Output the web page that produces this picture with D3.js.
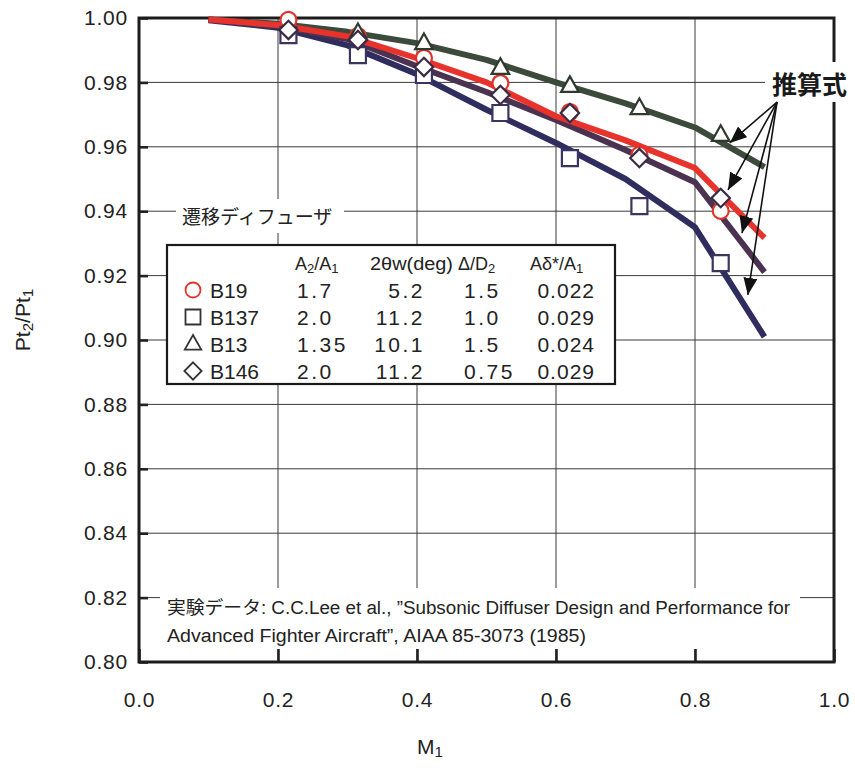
<!DOCTYPE html>
<html><head><meta charset="utf-8">
<script src="https://cdn.jsdelivr.net/npm/d3@7"></script>
<style>body{margin:0;background:#fff}</style>
</head><body>
<svg id="chart" width="855" height="770"></svg>
<script>
// ---------- data ----------
const xTicks = [0.0, 0.2, 0.4, 0.6, 0.8, 1.0];
const xTickLabels = ["0.0", "0.2", "0.4", "0.6", "0.8", "1.0"];
const yTicks = [0.80, 0.82, 0.84, 0.86, 0.88, 0.90, 0.92, 0.94, 0.96, 0.98, 1.00];
const yTickLabels = ["0.80", "0.82", "0.84", "0.86", "0.88", "0.90", "0.92", "0.94", "0.96", "0.98", "1.00"];

// 推算式 (calculated curves)
const calcM = [0.1, 0.2, 0.3, 0.4, 0.5, 0.6, 0.7, 0.8, 0.9];
const calcB19 = [0.9995, 0.9978, 0.9943, 0.9875, 0.9800, 0.9695, 0.9620, 0.9534, 0.9317];
const calcB137 = [0.9993, 0.9970, 0.9915, 0.9825, 0.9715, 0.9612, 0.9500, 0.9350, 0.9010];
const calcB13 = [0.9995, 0.9982, 0.9957, 0.9922, 0.9870, 0.9800, 0.9735, 0.9660, 0.9537];
const calcB146 = [0.9995, 0.9975, 0.9935, 0.9850, 0.9770, 0.9683, 0.9590, 0.9490, 0.9211];

// 実験データ (experimental points)
const expM = [0.215, 0.315, 0.41, 0.52, 0.62, 0.72, 0.837];
const expB19 = [0.9994, 0.9944, 0.9876, 0.9798, 0.9708, 0.9575, 0.9401];
const expB137 = [0.9947, 0.9885, 0.9823, 0.9705, 0.9565, 0.9416, 0.9239];
const expM13 = [0.315, 0.41, 0.52, 0.62, 0.72, 0.837];
const expB13 = [0.9953, 0.9922, 0.9845, 0.9789, 0.9720, 0.9637];
const expB146 = [0.9963, 0.9932, 0.9848, 0.9761, 0.9705, 0.9565, 0.9441];

// legend table
const seriesNames = ["B19", "B137", "B13", "B146"];
const colA2A1 = ["1.7", "2.0", "1.35", "2.0"];
const col2Theta = ["5.2", "11.2", "10.1", "11.2"];
const colDeltaD = ["1.5", "1.0", "1.5", "0.75"];
const colADelta = ["0.022", "0.029", "0.024", "0.029"];

// annotation arrows (data coords)
const arrowFrom = [0.918, 0.9739];
const arrowTips = [[0.850, 0.9612], [0.8475, 0.9466], [0.8676, 0.9332], [0.876, 0.9140]];

// ---------- chart ----------
const svg = d3.select("#chart");
const x = d3.scaleLinear().domain([0, 1]).range([139, 834]);
const y = d3.scaleLinear().domain([0.8, 1.0]).range([662, 18]);

const TICKFONT = "'Liberation Sans', Arial, sans-serif";
const JPFONT = "'Noto Sans CJK JP', sans-serif";
const MIXFONT = "'Liberation Sans', 'Noto Sans CJK JP', sans-serif";

svg.append("rect").attr("width", 855).attr("height", 770).attr("fill", "#fff");

// grid
const grid = svg.append("g").attr("stroke", "#3a3a3a").attr("stroke-width", 1);
grid.selectAll("line.v").data(xTicks.slice(1, -1)).join("line")
  .attr("x1", d => x(d)).attr("x2", d => x(d)).attr("y1", y(1)).attr("y2", y(0.8));
grid.selectAll("line.h").data(yTicks.slice(1, -1)).join("line")
  .attr("y1", d => y(d)).attr("y2", d => y(d)).attr("x1", x(0)).attr("x2", x(1));

// white backgrounds for in-plot texts
svg.append("rect").attr("x", 176).attr("y", 199).attr("width", 168).attr("height", 34).attr("fill", "#fff");
svg.append("rect").attr("x", 160).attr("y", 588).attr("width", 640).attr("height", 61).attr("fill", "#fff");

// transition diffuser label
svg.append("text").attr("x", 182).attr("y", 224).attr("font-family", JPFONT)
  .attr("font-size", 19).attr("fill", "#222").text("遷移ディフューザ");

// citation
svg.append("text").attr("x", 167).attr("y", 614).attr("font-family", MIXFONT)
  .attr("font-size", 18).attr("fill", "#222")
  .attr("textLength", 623).attr("lengthAdjust", "spacingAndGlyphs")
  .text("実験データ: C.C.Lee et al., \u201DSubsonic Diffuser Design and Performance for");
svg.append("text").attr("x", 167).attr("y", 642).attr("font-family", MIXFONT)
  .attr("font-size", 18).attr("fill", "#222")
  .attr("textLength", 419).attr("lengthAdjust", "spacingAndGlyphs")
  .text("Advanced Fighter Aircraft\u201D, AIAA 85-3073 (1985)");

// legend box
const lg = svg.append("g");
lg.append("rect").attr("x", 167).attr("y", 245).attr("width", 448).attr("height", 139)
  .attr("fill", "#fff").attr("stroke", "#1a1a1a").attr("stroke-width", 2.2);

function subText(sel, parts) {
  parts.forEach((p, i) => {
    const t = sel.append("tspan").text(p[0]);
    if (p[1]) t.attr("font-size", "72%").attr("dy", 3);
    else if (i > 0 && parts[i - 1][1]) t.attr("dy", -3);
  });
}
const headY = 270;
const hdr = lg.append("g").attr("font-family", TICKFONT).attr("font-size", 18).attr("fill", "#222");
subText(hdr.append("text").attr("x", 295).attr("y", headY), [["A"], ["2", 1], ["/A"], ["1", 1]]);
subText(hdr.append("text").attr("x", 370).attr("y", headY).attr("textLength", 83).attr("lengthAdjust", "spacingAndGlyphs"), [["2θw(deg)"]]);
subText(hdr.append("text").attr("x", 458).attr("y", headY), [["Δ/D"], ["2", 1]]);
subText(hdr.append("text").attr("x", 530).attr("y", headY), [["Aδ*/A"], ["1", 1]]);

const rowY = [298, 325, 352, 379];
const shapes = ["circle", "square", "triangle", "diamond"];
const markerStroke = ["#e0332c", "#3a3560", "#2f3a2f", "#3a2a44"];
const legendStroke = ["#e0332c", "#333", "#333", "#333"];

function shapePath(kind, s) {
  if (kind === "circle") return `M${-s},0A${s},${s} 0 1,0 ${s},0A${s},${s} 0 1,0 ${-s},0Z`;
  if (kind === "square") return `M${-s},${-s}H${s}V${s}H${-s}Z`;
  if (kind === "triangle") return `M0,${-s * 1.2}L${s * 1.1},${s * 0.75}L${-s * 1.1},${s * 0.75}Z`;
  return `M0,${-s * 1.15}L${s * 1.15},0L0,${s * 1.15}L${-s * 1.15},0Z`;
}

const rows = lg.selectAll("g.row").data(seriesNames).join("g")
  .attr("font-family", TICKFONT).attr("font-size", 21).attr("fill", "#222");
rows.append("path").attr("transform", (d, i) => `translate(193,${rowY[i] - 8})`)
  .attr("d", (d, i) => shapePath(shapes[i], 7.5)).attr("fill", "#fff")
  .attr("stroke", (d, i) => legendStroke[i]).attr("stroke-width", 1.8);
rows.append("text").attr("x", 210).attr("y", (d, i) => rowY[i]).text(d => d);
rows.append("text").attr("x", 297).attr("y", (d, i) => rowY[i]).attr("letter-spacing", 2.5).text((d, i) => colA2A1[i]);
rows.append("text").attr("x", 425).attr("y", (d, i) => rowY[i]).attr("text-anchor", "end").attr("letter-spacing", 2.5).text((d, i) => col2Theta[i]);
rows.append("text").attr("x", 464).attr("y", (d, i) => rowY[i]).attr("letter-spacing", 2.5).text((d, i) => colDeltaD[i]);
rows.append("text").attr("x", 595).attr("y", (d, i) => rowY[i]).attr("text-anchor", "end").attr("letter-spacing", 1).text((d, i) => colADelta[i]);

// axes
const yAxis = d3.axisLeft(y).tickValues(yTicks).tickFormat((d, i) => yTickLabels[i]).tickSize(-9).tickPadding(11);
const gy = svg.append("g").attr("transform", `translate(${x(0)},0)`).call(yAxis);
const xAxis = d3.axisBottom(x).tickValues(xTicks).tickFormat((d, i) => xTickLabels[i]).tickSize(-13).tickPadding(30);
const gx = svg.append("g").attr("transform", `translate(0,${y(0.8)})`).call(xAxis);
[gx, gy].forEach(g => {
  g.select(".domain").remove();
  g.selectAll(".tick line").attr("stroke", "#222").attr("stroke-width", 2.6);
  g.selectAll(".tick text").attr("font-family", TICKFONT).attr("font-size", 21).attr("fill", "#222").attr("letter-spacing", 0.8);
});

// frame
svg.append("rect").attr("x", x(0)).attr("y", y(1)).attr("width", x(1) - x(0)).attr("height", y(0.8) - y(1))
  .attr("fill", "none").attr("stroke", "#1c1c1c").attr("stroke-width", 3);

// axis titles
const yt = svg.append("text").attr("transform", `translate(30,320) rotate(-90)`).attr("text-anchor", "middle")
  .attr("font-family", TICKFONT).attr("font-size", 21).attr("fill", "#222");
subText(yt, [["Pt"], ["2", 1], ["/Pt"], ["1", 1]]);
const xt = svg.append("text").attr("x", 430).attr("y", 754).attr("text-anchor", "middle")
  .attr("font-family", TICKFONT).attr("font-size", 21).attr("fill", "#222");
subText(xt, [["M"], ["1", 1]]);

// calculated curves
const line = d3.line().x(d => x(d[0])).y(d => y(d[1]));
const curves = [
  { v: calcB19, c: "#e8332d" },
  { v: calcB13, c: "#3b4a3b" },
  { v: calcB137, c: "#2f2c5e" },
  { v: calcB146, c: "#4b3250" }
];
const curveOrder = [curves[1], curves[2], curves[3], curves[0]];
svg.append("g").selectAll("path").data(curveOrder).join("path")
  .attr("d", d => line(calcM.map((m, i) => [m, d.v[i]])))
  .attr("fill", "none").attr("stroke", d => d.c).attr("stroke-width", 6)
  .attr("stroke-linejoin", "round").attr("stroke-linecap", "butt");

// experimental markers
const markerSets = [
  { xs: expM, ys: expB19, k: 0 },
  { xs: expM, ys: expB137, k: 1 },
  { xs: expM13, ys: expB13, k: 2 },
  { xs: expM, ys: expB146, k: 3 }
];
markerSets.forEach(ms => {
  svg.append("g").selectAll("path").data(ms.xs.map((m, i) => [m, ms.ys[i]])).join("path")
    .attr("transform", d => `translate(${x(d[0])},${y(d[1])})`)
    .attr("d", shapePath(shapes[ms.k], 8)).attr("fill", "#fff")
    .attr("stroke", markerStroke[ms.k]).attr("stroke-width", 2.2);
});

// 推算式 label
svg.append("rect").attr("x", 765).attr("y", 62).attr("width", 90).attr("height", 40).attr("fill", "#fff");
svg.append("text").attr("x", 772).attr("y", 94).attr("font-family", JPFONT).attr("font-size", 25)
  .attr("font-weight", 700).attr("fill", "#1a1a1a").text("推算式");

// arrows
svg.append("defs").append("marker").attr("id", "ah").attr("viewBox", "0 -7 17 14")
  .attr("refX", 17).attr("refY", 0).attr("markerWidth", 17).attr("markerHeight", 14)
  .attr("markerUnits", "userSpaceOnUse").attr("orient", "auto")
  .append("path").attr("d", "M0,-7L17,0L0,7Z").attr("fill", "#111");
svg.append("g").selectAll("line").data(arrowTips).join("line")
  .attr("x1", x(arrowFrom[0])).attr("y1", y(arrowFrom[1]))
  .attr("x2", d => x(d[0])).attr("y2", d => y(d[1]))
  .attr("stroke", "#111").attr("stroke-width", 1.6).attr("marker-end", "url(#ah)");
</script>
</body></html>
